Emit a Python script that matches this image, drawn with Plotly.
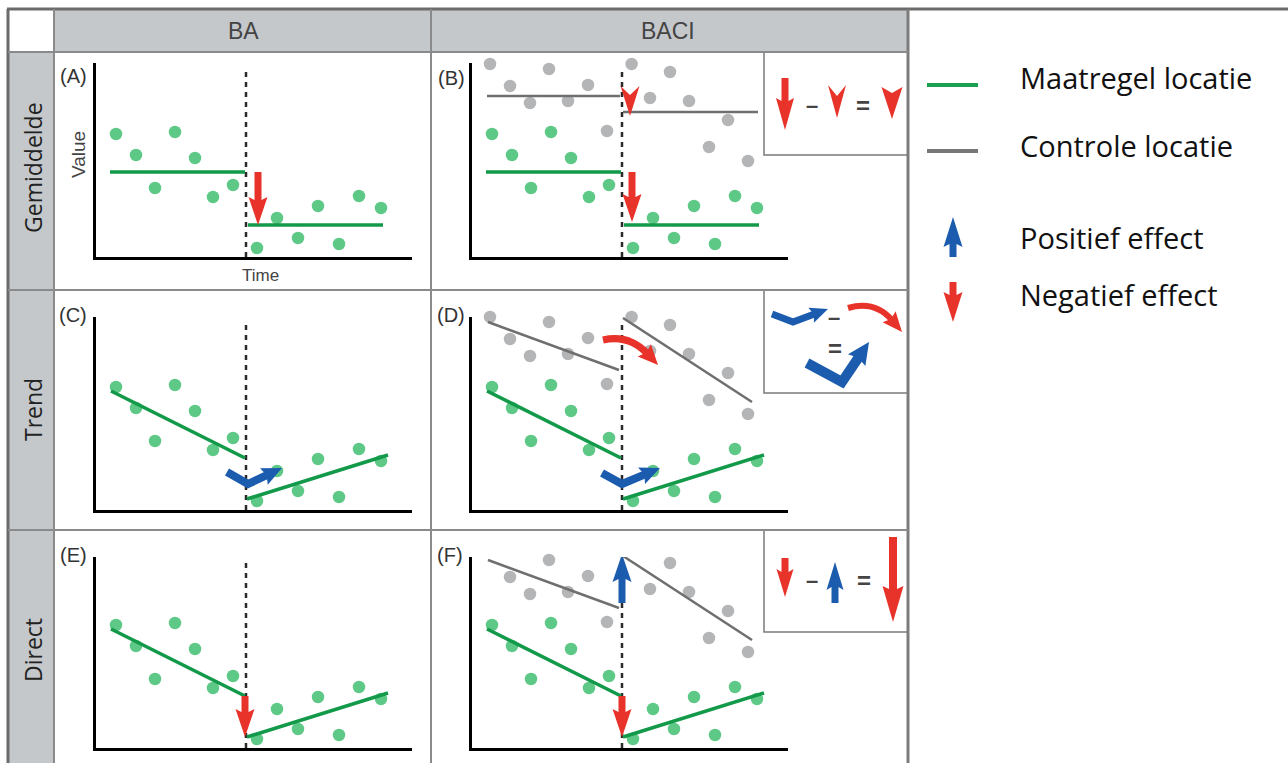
import math
import plotly.graph_objects as go

W, H = 1288, 763
PX = 20  # pixels per data unit inside every panel

# ---------------- data ----------------
col_labels = ["BA", "BACI"]
row_labels = ["Gemiddelde", "Trend", "Direct"]
panel_letters = ["(A)", "(B)", "(C)", "(D)", "(E)", "(F)"]
legend_labels = ["Maatregel locatie", "Controle locatie", "Positief effect", "Negatief effect"]

intervention_t = 7.5

green_before_t = [1.0, 2.0, 2.95, 3.95, 4.95, 5.85, 6.85]
green_before_v = [6.15, 5.1, 3.45, 6.25, 4.95, 3.0, 3.6]
green_after_t = [8.05, 9.05, 10.1, 11.1, 12.15, 13.15, 14.25]
green_after_v = [0.45, 1.95, 0.95, 2.55, 0.65, 3.05, 2.45]

gray_before_t = [0.9, 1.9, 2.9, 3.85, 4.8, 5.8, 6.75]
gray_before_v = [9.65, 8.55, 7.7, 9.4, 7.8, 8.6, 6.3]
gray_after_t = [7.98, 8.9, 9.9, 10.85, 11.85, 12.8, 13.8]
gray_after_v = [9.65, 7.95, 9.25, 7.8, 5.5, 6.85, 4.8]

# means (row "Gemiddelde")
green_mean_t = [[0.7, 7.45], [7.6, 14.35]]
green_mean_v = [4.25, 1.6]
gray_mean_t = [[0.75, 7.4], [7.55, 14.3]]
gray_mean_v = [8.05, 7.25]

# trends (rows "Trend" and "Direct")
green_trend_t = [[0.75, 7.45], [7.55, 14.6]]
green_trend_v = [[5.95, 2.6], [0.55, 2.75]]
gray_trend_t = [[0.8, 7.35], [7.55, 14.0]]
gray_trend_v = [[9.4, 7.0], [9.6, 5.4]]

dashed_v = [0.0, 9.5]

# ---------------- styles / layout constants ----------------
GREEN_DOT = "rgba(72,192,118,0.88)"
GREEN_LINE = "#13994a"
GRAY_DOT = "#b4b5b7"
GRAY_LINE = "#6f6f6f"
RED = "#e8332b"
BLUE = "#1c5cae"
GRID_DARK = "#6b6b6b"
GRID = "#8a8a8a"
FILL = "#c5c8cb"

COLS = [(96, 412), (472, 788)]
ROWS = [(63, 257), (317, 510), (557, 748)]


def fx(px):
    return px / W


def fy(py):
    return 1 - py / H


def ids(i):
    return ("x" if i == 1 else f"x{i}", "y" if i == 1 else f"y{i}")


fig = go.Figure()
shapes = []
annotations = []

# ---------------- axes ----------------
layout_axes = {}
for i in range(1, 7):
    r = (i - 1) // 2
    c = (i - 1) % 2
    x0, x1 = COLS[c]
    y0, y1 = ROWS[r]
    xid, yid = ids(i)
    common = dict(showgrid=False, zeroline=False, showticklabels=False, ticks="",
                  showline=True, linecolor="black", linewidth=3, fixedrange=True)
    layout_axes["xaxis" + ("" if i == 1 else str(i))] = dict(
        domain=[fx(x0), fx(x1)], range=[0, (x1 - x0) / PX], anchor=yid, **common)
    layout_axes["yaxis" + ("" if i == 1 else str(i))] = dict(
        domain=[fy(y1), fy(y0)], range=[0, (y1 - y0) / PX], anchor=xid, **common)

# ---------------- traces ----------------
for i in range(1, 7):
    r = (i - 1) // 2
    c = (i - 1) % 2
    xid, yid = ids(i)
    baci = c == 1
    fig.add_trace(go.Scatter(x=[intervention_t, intervention_t], y=dashed_v, mode="lines",
                             line=dict(color="#2a2a2a", width=2.5, dash="5px,5px"),
                             xaxis=xid, yaxis=yid, showlegend=False, hoverinfo="skip"))
    if baci:
        fig.add_trace(go.Scatter(x=gray_before_t + gray_after_t, y=gray_before_v + gray_after_v,
                                 mode="markers", marker=dict(size=12.5, color=GRAY_DOT),
                                 cliponaxis=False,
                                 xaxis=xid, yaxis=yid, showlegend=False))
    fig.add_trace(go.Scatter(x=green_before_t + green_after_t, y=green_before_v + green_after_v,
                             mode="markers", marker=dict(size=12.5, color=GREEN_DOT),
                             cliponaxis=False,
                             xaxis=xid, yaxis=yid, showlegend=False))
    for k in range(2):
        if r == 0:
            if baci:
                fig.add_trace(go.Scatter(x=gray_mean_t[k], y=[gray_mean_v[k]] * 2, mode="lines",
                                         line=dict(color=GRAY_LINE, width=2.5),
                                         xaxis=xid, yaxis=yid, showlegend=False))
            fig.add_trace(go.Scatter(x=green_mean_t[k], y=[green_mean_v[k]] * 2, mode="lines",
                                     line=dict(color=GREEN_LINE, width=3.5),
                                     xaxis=xid, yaxis=yid, showlegend=False))
        else:
            if baci:
                fig.add_trace(go.Scatter(x=gray_trend_t[k], y=gray_trend_v[k], mode="lines",
                                         line=dict(color=GRAY_LINE, width=2.5),
                                         xaxis=xid, yaxis=yid, showlegend=False))
            fig.add_trace(go.Scatter(x=green_trend_t[k], y=green_trend_v[k], mode="lines",
                                     line=dict(color=GREEN_LINE, width=3.5),
                                     xaxis=xid, yaxis=yid, showlegend=False))


# ---------------- glyph helpers (pixel-sized shapes) ----------------
def rot(pts, ang_deg):
    a = math.radians(ang_deg)
    c, s = math.cos(a), math.sin(a)
    return [(x * c - y * s, x * s + y * c) for x, y in pts]


def shift(pts, dx, dy):
    return [(x + dx, y + dy) for x, y in pts]


def pstr(pts, close=True):
    s = "M " + " L ".join(f"{x:.2f},{-y:.2f}" for x, y in pts)
    return s + (" Z" if close else "")


def glyph(path, xref, yref, xa, ya, fill=None, stroke=None, width=0):
    d = dict(type="path", xref=xref, yref=yref, xsizemode="pixel", ysizemode="pixel",
             xanchor=xa, yanchor=ya, path=path, layer="above")
    if fill is not None:
        d["fillcolor"] = fill
        d["line"] = dict(width=0, color=fill)
    else:
        d["fillcolor"] = "rgba(0,0,0,0)"
        d["line"] = dict(color=stroke, width=width)
    shapes.append(d)


def straight(xref, yref, xa, ya, length, ang, color, sw=7, hw=19, hl=25, notch=3):
    pts = [(-length, -sw / 2), (-hl, -sw / 2), (-hl - notch, -hw / 2), (0, 0),
           (-hl - notch, hw / 2), (-hl, sw / 2), (-length, sw / 2)]
    glyph(pstr(rot(pts, ang)), xref, yref, xa, ya, fill=color)


def dart(xref, yref, xa, ya, h, w, notch, ang, color):
    pts = [(-h, -w / 2), (-h + notch, 0), (-h, w / 2), (0, 0)]
    glyph(pstr(rot(pts, ang)), xref, yref, xa, ya, fill=color)


def head_at(tip, direction_deg, hw, hl, notch=3):
    pts = [(-hl - notch, -hw / 2), (-hl, 0), (-hl - notch, hw / 2), (0, 0)]
    return shift(rot(pts, direction_deg), tip[0], tip[1])


def hockey(xref, yref, xa, ya, start, tip, color, sw=8, hw=18, hl=17):
    dx, dy = tip[0], tip[1]
    n = math.hypot(dx, dy)
    ang = math.degrees(math.atan2(dy, dx))
    base = (tip[0] - dx / n * (hl - 2), tip[1] - dy / n * (hl - 2))
    glyph(pstr([start, (0, 0), base], close=False), xref, yref, xa, ya, stroke=color, width=sw)
    glyph(pstr(head_at(tip, ang, hw, hl)), xref, yref, xa, ya, fill=color)


def curve(xref, yref, xa, ya, ctrl, tip, color, sw=7, hw=18, hl=17):
    dx, dy = tip[0] - ctrl[0], tip[1] - ctrl[1]
    n = math.hypot(dx, dy)
    ang = math.degrees(math.atan2(dy, dx))
    base = (tip[0] - dx / n * (hl - 2), tip[1] - dy / n * (hl - 2))
    path = f"M 0,0 Q {ctrl[0]:.2f},{-ctrl[1]:.2f} {base[0]:.2f},{-base[1]:.2f}"
    glyph(path, xref, yref, xa, ya, stroke=color, width=sw)
    glyph(pstr(head_at(tip, ang, hw, hl)), xref, yref, xa, ya, fill=color)


# ---------------- effect arrows inside panels (anchored to data) ----------------
straight("x", "y", 8.1, green_mean_v[1], (green_mean_v[0] - green_mean_v[1]) * PX, 90, RED)
straight("x2", "y2", 8.0, green_mean_v[1] + 0.15, (green_mean_v[0] - green_mean_v[1] - 0.15) * PX, 90, RED)
dart("x2", "y2", 7.9, 7.05, 30, 19, 9, 90, RED)
hockey("x3", "y3", 7.6, 1.3, (-21, -12), (34, -16), BLUE)
hockey("x4", "y4", 7.5, 1.3, (-20, -11), (38, -16), BLUE)
curve("x4", "y4", 6.55, 8.5, (26, -6), (55, 25), RED)
straight("x5", "y5", 7.45, green_trend_v[1][0], (green_trend_v[0][1] - green_trend_v[1][0]) * PX, 90, RED)
straight("x6", "y6", 7.5, gray_trend_v[1][0] + 0.1, (gray_trend_v[1][0] + 0.1 - 7.25) * PX, -90, BLUE)
straight("x6", "y6", 7.5, green_trend_v[1][0], (green_trend_v[0][1] - green_trend_v[1][0]) * PX, 90, RED)


# ---------------- table grid ----------------
def rect(x0, y0, x1, y1, fill, line_color=None, lw=0, layer="below"):
    shapes.append(dict(type="rect", xref="paper", yref="paper", x0=fx(x0), x1=fx(x1),
                       y0=fy(y1), y1=fy(y0), fillcolor=fill, layer=layer,
                       line=dict(width=lw, color=line_color or fill)))


def line(x0, y0, x1, y1, color, w):
    shapes.append(dict(type="line", xref="paper", yref="paper", x0=fx(x0), x1=fx(x1),
                       y0=fy(y0), y1=fy(y1), line=dict(color=color, width=w), layer="above"))


rect(54, 10, 908, 52, FILL)
rect(8, 52, 54, 763, FILL)
for (y0, y1) in [(52, 155), (290, 393), (530, 632)]:
    rect(764, y0, 908, y1, "white", "#7a7a7a", 1.5, layer="above")

line(7, 9, 1288, 9, GRID_DARK, 3)
line(8, 9, 8, 763, GRID_DARK, 3)
line(908, 9, 908, 763, "#7c7c7c", 3)
line(8, 52, 908, 52, GRID, 2)
line(8, 290, 908, 290, GRID, 2)
line(8, 530, 908, 530, GRID, 2)
line(54, 9, 54, 763, GRID, 2)
line(431, 9, 431, 763, GRID, 2)


# ---------------- texts ----------------
def text(s, x, y, size, color="#333", family="Liberation Sans", angle=0, xanchor="center", bold=False):
    annotations.append(dict(text=f"<b>{s}</b>" if bold else s, x=fx(x), y=fy(y),
                            xref="paper", yref="paper", showarrow=False, textangle=angle,
                            xanchor=xanchor, yanchor="middle",
                            font=dict(size=size, color=color, family=family)))


text(col_labels[0], 243, 31, 23, "#444")
text(col_labels[1], 668, 31, 23, "#444")
for lab, yc in zip(row_labels, [168, 410, 650]):
    text(lab, 33, yc, 23, "#222", "Open Sans", angle=-90)
for lab, (xc, yc) in zip(panel_letters, [(73, 76), (451, 78), (73, 315), (451, 315), (73, 555), (450, 555)]):
    text(lab, xc, yc, 20, "#333")
text("Value", 78, 155, 19, "#444", angle=-90)
text("Time", 260, 275, 17, "#444")

text("–", 812, 105, 22, "#444", bold=True)
text("=", 863, 105, 24, "#444", bold=True)
text("–", 834, 317, 22, "#444", bold=True)
text("=", 835, 348, 24, "#444", bold=True)
text("–", 812, 580, 22, "#444", bold=True)
text("=", 864, 580, 24, "#444", bold=True)

P = ("paper", "paper")
straight(*P, fx(785), fy(130), 52, 90, RED, sw=7, hw=18, hl=29)
dart(*P, fx(837), fy(118), 33, 18, 11, 90, RED)
dart(*P, fx(892), fy(119), 32, 21, 6, 90, RED)

hockey(*P, fx(793), fy(322), (-21, -8), (35, -13), BLUE, sw=7, hw=16, hl=15)
curve(*P, fx(848), fy(308), (27, -8), (54, 24), RED, sw=6, hw=17, hl=17)
hockey(*P, fx(842), fy(382), (-35, -19), (27, -40), BLUE, sw=10, hw=21, hl=19)

straight(*P, fx(785), fy(597), 39, 90, RED, sw=7, hw=17, hl=25)
straight(*P, fx(835), fy(562), 41, -90, BLUE, sw=7, hw=17, hl=25)
straight(*P, fx(893), fy(622), 85, 90, RED, sw=8, hw=21, hl=33)

# ---------------- legend ----------------
line(927, 85, 978, 85, "#1aa04e", 4)
line(927, 151, 978, 151, "#777777", 4)
straight(*P, fx(953), fy(217), 40, -90, BLUE, sw=7, hw=19, hl=27)
straight(*P, fx(953), fy(322), 40, 90, RED, sw=7, hw=19, hl=27)
for lab, yc in zip(legend_labels, [78, 145, 237, 295]):
    text(lab, 1018, yc, 29, "#111", "Open Sans", xanchor="left")

fig.update_layout(width=W, height=H, margin=dict(l=0, r=0, t=0, b=0),
                  paper_bgcolor="white", plot_bgcolor="white", showlegend=False,
                  shapes=shapes, annotations=annotations, **layout_axes)

fig.write_html("out.html", config={"displayModeBar": False},
               post_script="document.body.style.margin='0px';document.body.style.overflow='hidden';")
